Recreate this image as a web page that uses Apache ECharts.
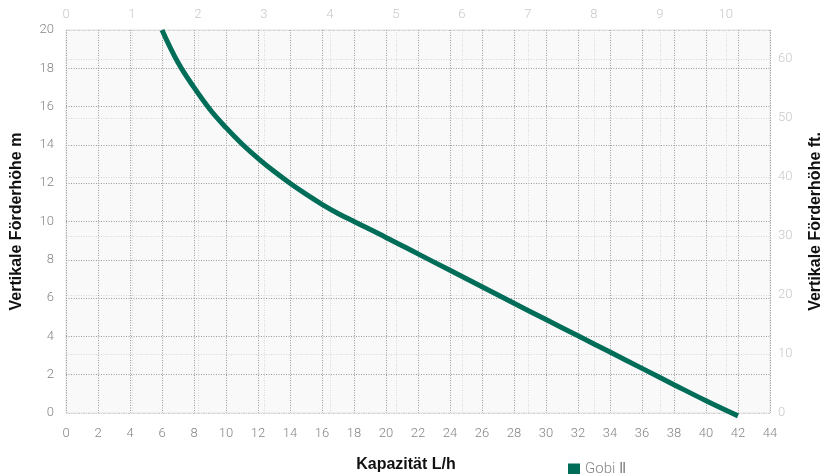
<!DOCTYPE html>
<html>
<head>
<meta charset="utf-8">
<script src="https://cdn.jsdelivr.net/npm/echarts@6/dist/echarts.min.js"></script>
<style>html,body{margin:0;padding:0;background:#fff}#c{width:824px;height:474px}</style>
</head>
<body>
<div id="c"></div>
<script>
// Data
const seriesName = 'Gobi Ⅱ';
const capacity = [6, 7, 8, 9, 10, 11, 12, 13, 14, 15, 16, 17, 18, 20, 22, 24, 26, 28, 30, 32, 34, 36, 38, 40, 42];
const head =     [20, 18.3, 17.0, 15.85, 14.9, 14.05, 13.3, 12.62, 12.0, 11.43, 10.9, 10.42, 10.0, 9.17, 8.31, 7.45, 6.59, 5.73, 4.88, 4.03, 3.18, 2.33, 1.48, 0.64, -0.15];
const xName = 'Kapazität L/h';
const yLeftName = 'Vertikale Förderhöhe m';
const yRightName = 'Vertikale Förderhöhe ft.';

const FONT = 'Roboto, "Noto Sans", sans-serif';
const BOLD = '"Liberation Sans", Arial, sans-serif';
const chart = echarts.init(document.getElementById('c'));
const darkSplit = {show: true, lineStyle: {color: '#9a9a9a', type: [1, 1.5], width: 1}};
const lightSplit = {show: true, lineStyle: {color: '#d8d8d8', type: [1, 1.5], width: 1}};
chart.setOption({
  animation: false,
  backgroundColor: '#fff',
  textStyle: {fontFamily: FONT},
  grid: {left: 66, right: 54, top: 30, bottom: 61, containLabel: false, outerBoundsMode: 'none',
         show: true, backgroundColor: '#f9f9f9', borderColor: '#e2e2e2', borderWidth: 1},
  legend: {
    data: [seriesName], left: 563, top: 457, icon: 'rect', itemWidth: 12, itemHeight: 12, itemGap: 6,
    textStyle: {color: '#888', fontSize: 15, fontWeight: 300, fontFamily: FONT}
  },
  xAxis: [
    {
      type: 'value', position: 'bottom', min: 0, max: 44, interval: 2,
      name: xName, nameLocation: 'middle', nameGap: 44,
      nameTextStyle: {color: '#111', fontWeight: 'bold', fontSize: 16, padding: [0, 24, 0, 0], fontFamily: BOLD},
      axisLine: {show: false}, axisTick: {show: false},
      axisLabel: {color: '#858585', fontSize: 13, fontWeight: 300, margin: 14, fontFamily: FONT},
      splitLine: darkSplit, z: 2
    },
    {
      type: 'value', position: 'top', min: 0, max: 10.67, interval: 1,
      axisLine: {show: false}, axisTick: {show: false},
      axisLabel: {color: '#c8c8c8', fontSize: 13, fontWeight: 300, margin: 9, fontFamily: FONT, showMaxLabel: false},
      splitLine: lightSplit
    }
  ],
  yAxis: [
    {
      type: 'value', position: 'left', min: 0, max: 20, interval: 2,
      name: yLeftName, nameLocation: 'middle', nameGap: 41, nameRotate: 90,
      nameTextStyle: {color: '#111', fontWeight: 'bold', fontSize: 16, fontFamily: BOLD},
      axisLine: {show: false}, axisTick: {show: false},
      axisLabel: {color: '#858585', fontSize: 13, fontWeight: 300, margin: 12, fontFamily: FONT},
      splitLine: darkSplit
    },
    {
      type: 'value', position: 'right', min: 0, max: 64.9, interval: 10,
      name: yRightName, nameLocation: 'middle', nameGap: 38, nameRotate: 90,
      nameTextStyle: {color: '#111', fontWeight: 'bold', fontSize: 16, fontFamily: BOLD},
      axisLine: {show: false}, axisTick: {show: false},
      axisLabel: {color: '#c8c8c8', fontSize: 13, fontWeight: 300, margin: 8, fontFamily: FONT, showMaxLabel: false},
      splitLine: lightSplit
    }
  ],
  series: [{
    name: seriesName, type: 'line', xAxisIndex: 0, yAxisIndex: 0,
    data: capacity.map((c, i) => [c, head[i]]),
    smooth: 0.4, showSymbol: false, symbol: 'none', clip: false,
    lineStyle: {color: '#006d59', width: 5, cap: 'butt'},
    itemStyle: {color: '#006d59'}
  }]
});
</script>
</body>
</html>
